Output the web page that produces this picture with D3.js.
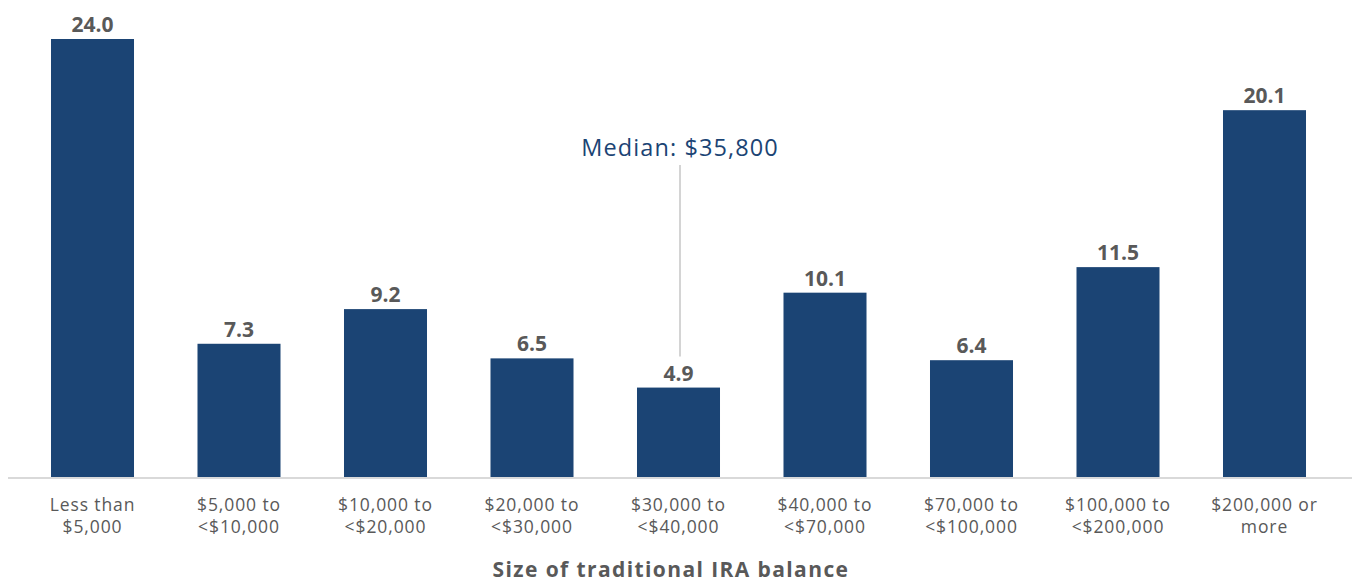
<!DOCTYPE html>
<html>
<head>
<meta charset="utf-8">
<script src="https://cdn.jsdelivr.net/npm/d3@7"></script>
<style>
  html, body { margin: 0; padding: 0; background: #ffffff; }
  svg { display: block; }
  text { font-family: "Open Sans", "DejaVu Sans", sans-serif; }
</style>
</head>
<body>
<svg id="chart" width="1353" height="584"></svg>
<script>
const categories = [
  ["Less than", "$5,000"],
  ["$5,000 to", "<$10,000"],
  ["$10,000 to", "<$20,000"],
  ["$20,000 to", "<$30,000"],
  ["$30,000 to", "<$40,000"],
  ["$40,000 to", "<$70,000"],
  ["$70,000 to", "<$100,000"],
  ["$100,000 to", "<$200,000"],
  ["$200,000 or", "more"]
];
const categoryKeys = categories.map(c => c.join(" "));
const values = [24.0, 7.3, 9.2, 6.5, 4.9, 10.1, 6.4, 11.5, 20.1];
const medianLabel = "Median: $35,800";
const medianCategory = "$30,000 to <$40,000";
const medianLineRange = [6.6, 17.1];
const xTitle = "Size of traditional IRA balance";

const svg = d3.select("#chart");
const barColor = "#1b4474";
const textGray = "#595959";

const x = d3.scaleBand()
  .domain(categoryKeys)
  .range([19.25, 1337.75])
  .paddingInner(0.4334)
  .paddingOuter(0.2167);

const y = d3.scaleLinear()
  .domain([0, 24])
  .range([477, 39]);

// bars
svg.append("g").selectAll("rect")
  .data(values)
  .join("rect")
  .attr("x", (d, i) => x(categoryKeys[i]))
  .attr("y", d => y(d))
  .attr("width", x.bandwidth())
  .attr("height", d => y(0) - y(d))
  .attr("fill", barColor);

// axis line
svg.append("line")
  .attr("x1", 8).attr("x2", 1352)
  .attr("y1", y(0) + 1).attr("y2", y(0) + 1)
  .attr("stroke", "#d9d9d9").attr("stroke-width", 2);

// value labels
svg.append("g").selectAll("text")
  .data(values)
  .join("text")
  .attr("x", (d, i) => x(categoryKeys[i]) + x.bandwidth() / 2)
  .attr("y", d => y(d) - 7)
  .attr("text-anchor", "middle")
  .attr("font-size", 21)
  .attr("font-weight", 700)
  .attr("fill", textGray)
  .text(d => d.toFixed(1));

// category labels
const cat = svg.append("g").selectAll("text")
  .data(categories)
  .join("text")
  .attr("text-anchor", "middle")
  .attr("font-size", 17.5)
  .attr("letter-spacing", 0.9)
  .attr("fill", textGray)
  .attr("x", (d, i) => x(categoryKeys[i]) + x.bandwidth() / 2)
  .attr("y", 511);
cat.each(function(d, i) {
  const t = d3.select(this);
  const cx = x(categoryKeys[i]) + x.bandwidth() / 2;
  d.forEach((line, j) => {
    t.append("tspan").attr("x", cx).attr("dy", j === 0 ? 0 : 22).text(line);
  });
});

// median annotation
const mx = x(medianCategory) + x.bandwidth() / 2 + 1.5;
svg.append("line")
  .attr("x1", mx).attr("x2", mx)
  .attr("y1", y(medianLineRange[1])).attr("y2", y(medianLineRange[0]))
  .attr("stroke", "#d4d4d4").attr("stroke-width", 2);
svg.append("text")
  .attr("x", mx)
  .attr("y", 156)
  .attr("text-anchor", "middle")
  .attr("font-size", 23.5)
  .attr("letter-spacing", 1.1)
  .attr("fill", barColor)
  .text(medianLabel);

// x title
svg.append("text")
  .attr("x", 671)
  .attr("y", 577)
  .attr("text-anchor", "middle")
  .attr("font-size", 21)
  .attr("font-weight", 700)
  .attr("letter-spacing", 1.4)
  .attr("fill", textGray)
  .text(xTitle);
</script>
</body>
</html>
